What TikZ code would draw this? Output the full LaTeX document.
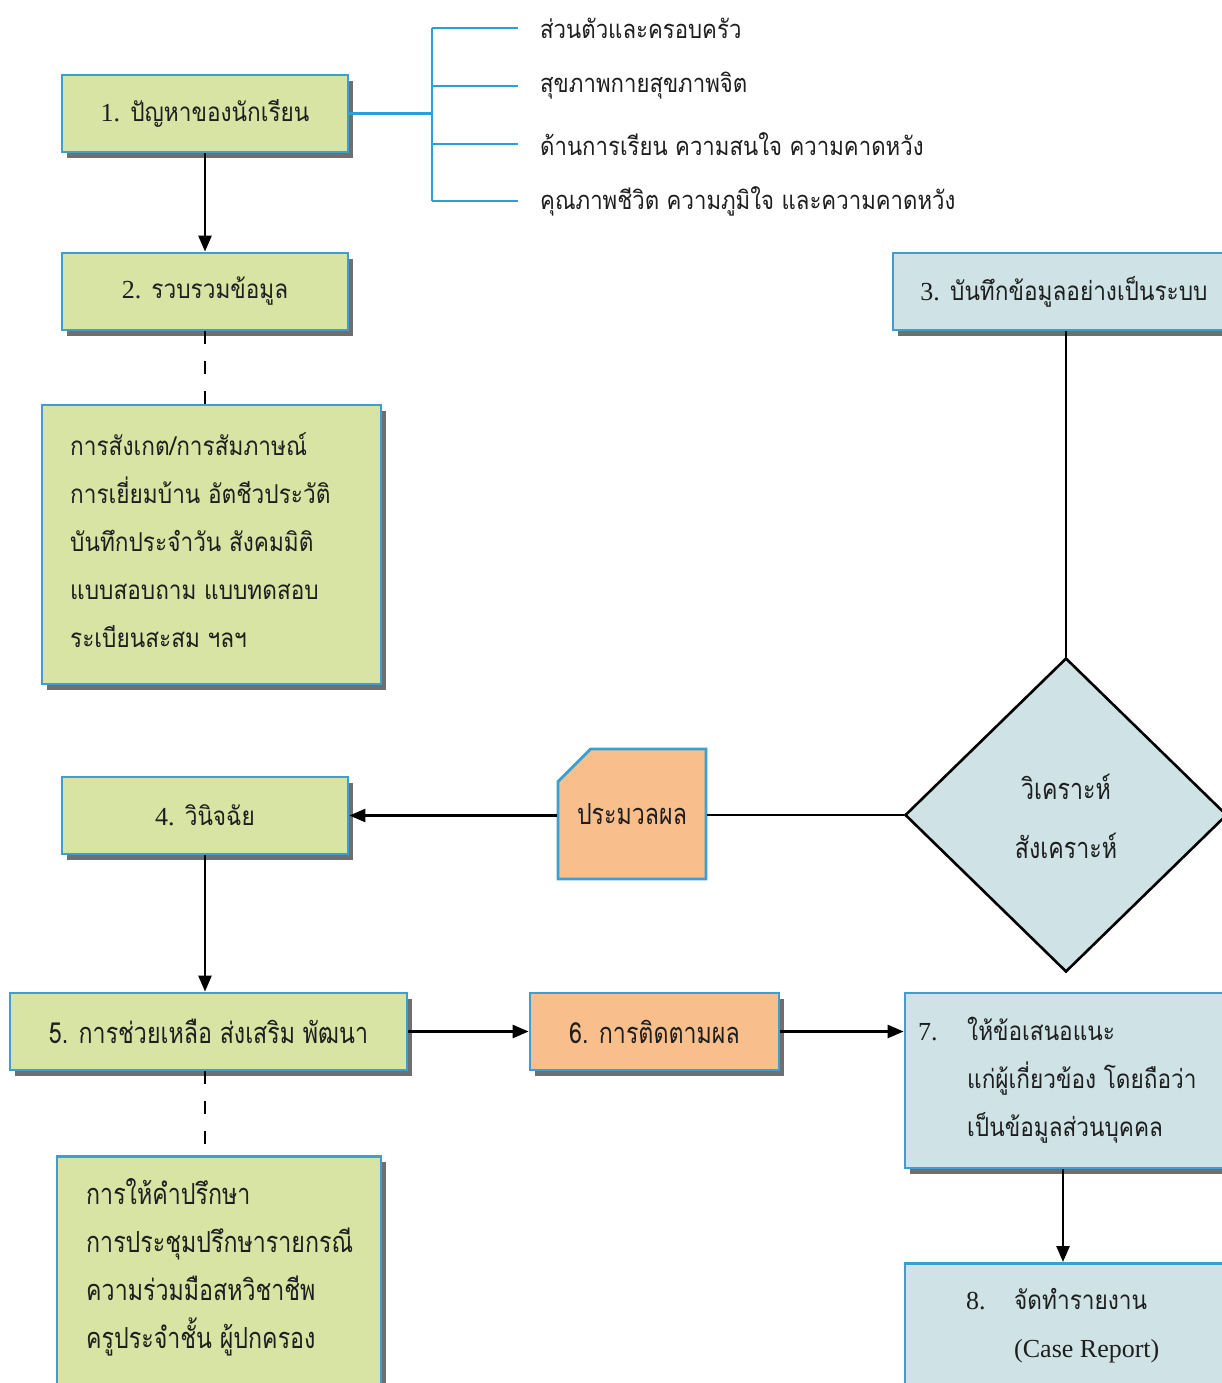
\documentclass[tikz,border=0pt]{standalone}
\usepackage{fontspec}
\setmainfont[Script=Thai,FakeStretch=0.87]{Loma}
\newfontfamily\thaic[Script=Thai,FakeStretch=0.80]{Loma}
\newfontfamily\serif{Liberation Serif}
\usetikzlibrary{arrows.meta,shapes.geometric,shapes.misc,shadows}
\definecolor{gfill}{HTML}{D8E4A3}
\definecolor{bfill}{HTML}{CFE3E6}
\definecolor{ofill}{HTML}{F8BE8C}
\definecolor{bord}{HTML}{3C9FD2}
\definecolor{brk}{HTML}{2B9FDA}
\definecolor{ink}{HTML}{1E1E1E}
\begin{document}
\begin{tikzpicture}[x=1pt,y=-1pt,
  txt/.style={font=\fontsize{26}{48}\selectfont, text=ink},
  ctxt/.style={font=\fontsize{29}{48}\selectfont\thaic, text=ink},
  btxt/.style={font=\fontsize{25.5}{48}\selectfont, text=ink},
  shad/.style={drop shadow={shadow xshift=5pt, shadow yshift=-6pt, opacity=0.7, fill=black!80}},
  gbox/.style={rectangle, draw=bord, line width=2.8pt, fill=gfill, inner sep=0pt, shad, txt},
  bbox/.style={rectangle, draw=bord, line width=2.8pt, fill=bfill, inner sep=0pt, shad, txt},
  obox/.style={rectangle, draw=bord, line width=2.8pt, fill=ofill, inner sep=0pt, shad, txt},
  conn/.style={draw=black, line width=2.6pt},
  arr/.style={conn, -{Triangle[length=16pt,width=13pt]}},
  dsh/.style={conn, dash pattern=on 13pt off 17pt},
  brline/.style={draw=brk, line width=2.8pt},
  btext/.style={btxt, anchor=west, inner sep=0pt},
  para/.style={anchor=west, align=left, inner sep=0pt}
]
\clip (0,0) rectangle (1222,1383);
\fill[white] (0,0) rectangle (1222,1383);

% left column
\node[gbox, minimum width=286pt, minimum height=77pt] (b1) at (205,113.5) {{\serif 1.} ปัญหาของนักเรียน};
\node[gbox, minimum width=286pt, minimum height=77pt] (b2) at (205,291.5) {{\serif 2.} รวบรวมข้อมูล};
\node[gbox, minimum width=339pt, minimum height=279pt] (b2a) at (211.5,544.5) {};
\node[para, txt] (b2at) at (70,540)
  {การสังเกต/การสัมภาษณ์\\การเยี่ยมบ้าน อัตชีวประวัติ\\บันทึกประจำวัน สังคมมิติ\\แบบสอบถาม แบบทดสอบ\\ระเบียนสะสม ฯลฯ};
\node[gbox, minimum width=286pt, minimum height=77pt] (b4) at (205,815.5) {{\serif 4.} วินิจฉัย};
\node[gbox, minimum width=397pt, minimum height=77pt, ctxt] (b5) at (208.5,1031.5) {5. การช่วยเหลือ ส่งเสริม พัฒนา};
\node[gbox, minimum width=324pt, minimum height=250pt, anchor=north] (b5a) at (219,1155) {};
\node[para, ctxt] (b5at) at (86,1267)
  {การให้คำปรึกษา\\การประชุมปรึกษารายกรณี\\ความร่วมมือสหวิชาชีพ\\ครูประจำชั้น ผู้ปกครอง};

% middle
\node[obox, minimum width=249pt, minimum height=77pt, ctxt] (b6) at (654.5,1031.5) {6. การติดตามผล};
\node[chamfered rectangle, chamfered rectangle corners=north west, chamfered rectangle xsep=24pt, chamfered rectangle ysep=22pt,
  draw=bord, line width=2.8pt, fill=ofill, inner sep=0pt, minimum width=148pt, minimum height=130pt, ctxt] (card) at (632,814) {ประมวลผล};

% right column
\node[bbox, minimum width=342pt, minimum height=77pt] (b3) at (1064,291.5) {{\serif 3.} บันทึกข้อมูลอย่างเป็นระบบ};
\node[diamond, draw=black, line width=2.6pt, fill=bfill, inner sep=0pt, minimum width=322pt, minimum height=314pt] (dia) at (1066,815) {};
\node[ctxt, font=\fontsize{29}{59}\selectfont\thaic, align=center, inner sep=0pt] (diat) at (1066,816) {วิเคราะห์\\สังเคราะห์};
\node[bbox, minimum width=330pt, minimum height=175pt] (b7) at (1070,1080.5) {};
\node[para, txt] (b7t) at (918,1080)
  {\makebox[49pt][l]{\serif 7.}ให้ข้อเสนอแนะ\\\hspace*{49pt}แก่ผู้เกี่ยวข้อง โดยถือว่า\\\hspace*{49pt}เป็นข้อมูลส่วนบุคคล};
\node[bbox, minimum width=330pt, minimum height=150pt, anchor=north] (b8) at (1070,1262) {};
\node[para, txt] (b8t) at (966,1326)
  {\makebox[48pt][l]{\serif 8.}จัดทำรายงาน\\\hspace*{48pt}{\serif (Case Report)}};

% bracket
\coordinate (bj) at (432,113.5);
\coordinate (bt) at (432,28);
\coordinate (bb) at (432,201);
\coordinate (e1) at (518,28);
\coordinate (e2) at (518,86);
\coordinate (e3) at (518,144);
\coordinate (e4) at (518,201);
\draw[brline] (b1.east) -- (bj);
\draw[brline] (bt) -- (bb);
\draw[brline] (bt) -- (e1);
\draw[brline] (bt |- e2) -- (e2);
\draw[brline] (bt |- e3) -- (e3);
\draw[brline] (bb) -- (e4);
\node[btext] (t1) at (540,28) {ส่วนตัวและครอบครัว};
\node[btext] (t2) at (540,86) {สุขภาพกายสุขภาพจิต};
\node[btext] (t3) at (540,144) {ด้านการเรียน ความสนใจ ความคาดหวัง};
\node[btext] (t4) at (540,201) {คุณภาพชีวิต ความภูมิใจ และความคาดหวัง};

% connectors
\draw[arr] (b1.south) -- (b2.north);
\draw[dsh] (b2.south) -- (b2.south |- b2a.north);
\draw[conn] (b3.south -| dia.north) -- (dia.north);
\draw[conn] (dia.west) -- (card.east |- dia.west);
\draw[arr] (card.west |- b4.east) -- (b4.east);
\draw[arr] (b4.south) -- (b4.south |- b5.north);
\draw[dsh] (b5.south -| b4.south) -- (b4.south |- b5a.north);
\draw[arr] (b5.east) -- (b6.west);
\draw[arr] (b6.east) -- (b6.east -| b7.west);
\draw[arr] ([xshift=-7pt]b7.south) -- ([xshift=-7pt]b8.north);
\end{tikzpicture}
\end{document}
